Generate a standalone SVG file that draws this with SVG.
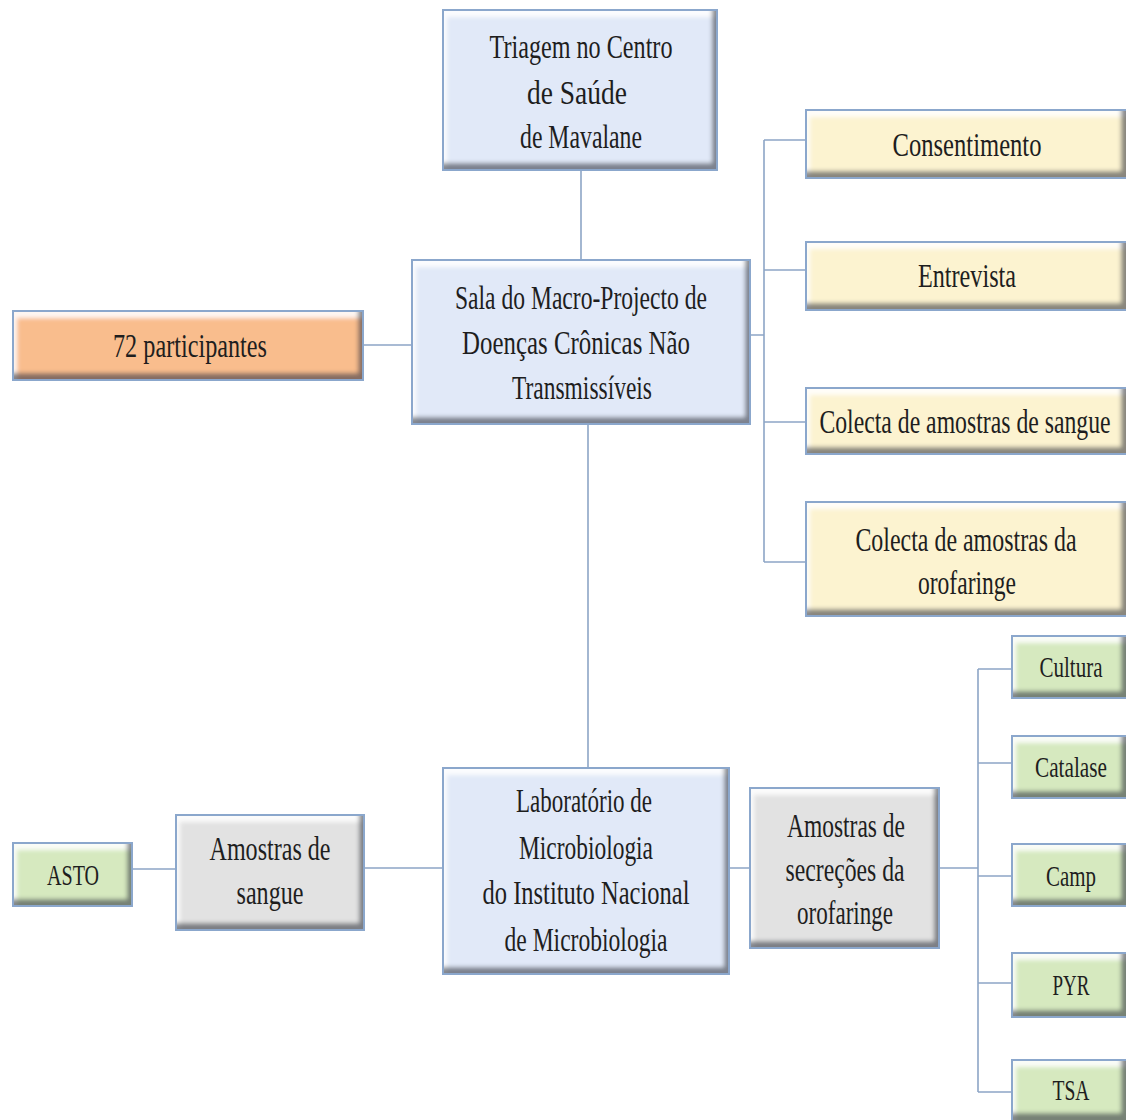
<svg xmlns="http://www.w3.org/2000/svg" width="1126" height="1120" viewBox="0 0 1126 1120">
<defs>
<style>
.t{font-family:"Liberation Serif","DejaVu Serif",serif;font-size:34px;fill:#1e1e1e;text-anchor:middle}
.s{font-size:29px}
.c{fill:none;stroke:#8da5c6;stroke-width:1.6}
.bf{filter:url(#bev)}
.bs{fill:none;stroke:#8ba7cc;stroke-width:2}
.blue{fill:#e1e9f8}
.orange{fill:#f9bd8d}
.yellow{fill:#fcf3d0}
.grey{fill:#e2e2e2}
.green{fill:#d6e9bf}
</style>
<filter id="bev" x="-5%" y="-10%" width="110%" height="120%">
<feGaussianBlur in="SourceAlpha" stdDeviation="2" result="b"/>
<feOffset in="b" dx="-5" dy="-7" result="o1"/>
<feComposite in="SourceAlpha" in2="o1" operator="out" result="sh"/>
<feFlood flood-color="#3c4452" flood-opacity="0.78"/>
<feComposite in2="sh" operator="in" result="shc"/>
<feOffset in="b" dx="4" dy="7" result="o2"/>
<feComposite in="SourceAlpha" in2="o2" operator="out" result="hl"/>
<feFlood flood-color="#ffffff" flood-opacity="0.85"/>
<feComposite in2="hl" operator="in" result="hlc"/>
<feMerge><feMergeNode in="SourceGraphic"/><feMergeNode in="hlc"/><feMergeNode in="shc"/></feMerge>
</filter>
</defs>
<rect width="1126" height="1120" fill="#ffffff"/>
<g id="connectors">
<path class="c" d="M581 170V260"/>
<path class="c" d="M363 345H412"/>
<path class="c" d="M750 335H764M764 140V562M764 140H806M764 270H806M764 422H806M764 562H806"/>
<path class="c" d="M588 424V768"/>
<path class="c" d="M132 869H176M364 868H443M729 868H750"/>
<path class="c" d="M939 868H978M978 669V1092M978 669H1012M978 763H1012M978 876H1012M978 983H1012M978 1092H1012"/>
</g>
<g id="triagem">
<rect class="bf blue" x="443" y="10" width="274" height="160"/><rect class="bs" x="443" y="10" width="274" height="160"/>
<text class="t" x="581" y="58" textLength="183" lengthAdjust="spacingAndGlyphs">Triagem no Centro</text>
<text class="t" x="577" y="104" textLength="100" lengthAdjust="spacingAndGlyphs">de Saúde</text>
<text class="t" x="581" y="148" textLength="122" lengthAdjust="spacingAndGlyphs">de Mavalane</text>
</g>
<g id="sala">
<rect class="bf blue" x="412" y="260" width="338" height="164"/><rect class="bs" x="412" y="260" width="338" height="164"/>
<text class="t" x="581" y="309" textLength="252" lengthAdjust="spacingAndGlyphs">Sala do Macro-Projecto de</text>
<text class="t" x="576" y="354" textLength="228" lengthAdjust="spacingAndGlyphs">Doenças Crônicas Não</text>
<text class="t" x="582" y="399" textLength="140" lengthAdjust="spacingAndGlyphs">Transmissíveis</text>
</g>
<g id="participantes">
<rect class="bf orange" x="13" y="311" width="350" height="69"/><rect class="bs" x="13" y="311" width="350" height="69"/>
<text class="t" x="190" y="357" textLength="154" lengthAdjust="spacingAndGlyphs">72 participantes</text>
</g>
<g id="consentimento">
<rect class="bf yellow" x="806" y="110" width="320" height="68"/><path class="bs" d="M1126 110H806V178H1126"/>
<text class="t" x="967" y="156" textLength="149" lengthAdjust="spacingAndGlyphs">Consentimento</text>
</g>
<g id="entrevista">
<rect class="bf yellow" x="806" y="242" width="320" height="68"/><path class="bs" d="M1126 242H806V310H1126"/>
<text class="t" x="967" y="287" textLength="98" lengthAdjust="spacingAndGlyphs">Entrevista</text>
</g>
<g id="colecta-sangue">
<rect class="bf yellow" x="806" y="388" width="320" height="66"/><path class="bs" d="M1126 388H806V454H1126"/>
<text class="t" transform="translate(965 433) scale(0.7 1)" x="0" y="0" textLength="416" lengthAdjust="spacingAndGlyphs">Colecta de amostras de sangue</text>
</g>
<g id="colecta-orofaringe">
<rect class="bf yellow" x="806" y="502" width="320" height="114"/><path class="bs" d="M1126 502H806V616H1126"/>
<text class="t" transform="translate(966 551) scale(0.7 1)" x="0" y="0" textLength="316" lengthAdjust="spacingAndGlyphs">Colecta de amostras da</text>
<text class="t" x="967" y="594" textLength="98" lengthAdjust="spacingAndGlyphs">orofaringe</text>
</g>
<g id="cultura">
<rect class="bf green" x="1012" y="636" width="114" height="62"/><path class="bs" d="M1126 636H1012V698H1126"/>
<text class="t s" x="1071" y="677" textLength="63" lengthAdjust="spacingAndGlyphs">Cultura</text>
</g>
<g id="catalase">
<rect class="bf green" x="1012" y="736" width="114" height="62"/><path class="bs" d="M1126 736H1012V798H1126"/>
<text class="t s" transform="translate(1071 777) scale(0.75 1)" x="0" y="0" textLength="96" lengthAdjust="spacingAndGlyphs">Catalase</text>
</g>
<g id="camp">
<rect class="bf green" x="1012" y="844" width="114" height="62"/><path class="bs" d="M1126 844H1012V906H1126"/>
<text class="t s" x="1071" y="886" textLength="50" lengthAdjust="spacingAndGlyphs">Camp</text>
</g>
<g id="pyr">
<rect class="bf green" x="1012" y="953" width="114" height="64"/><path class="bs" d="M1126 953H1012V1017H1126"/>
<text class="t s" x="1071" y="995" textLength="37" lengthAdjust="spacingAndGlyphs">PYR</text>
</g>
<g id="tsa">
<rect class="bf green" x="1012" y="1060" width="114" height="60"/><path class="bs" d="M1126 1060H1012V1120"/>
<text class="t s" x="1071" y="1100" textLength="37" lengthAdjust="spacingAndGlyphs">TSA</text>
</g>
<g id="asto">
<rect class="bf green" x="13" y="843" width="119" height="63"/><rect class="bs" x="13" y="843" width="119" height="63"/>
<text class="t s" x="73" y="885" textLength="52" lengthAdjust="spacingAndGlyphs">ASTO</text>
</g>
<g id="amostras-sangue">
<rect class="bf grey" x="176" y="815" width="188" height="115"/><rect class="bs" x="176" y="815" width="188" height="115"/>
<text class="t" x="270" y="860" textLength="121" lengthAdjust="spacingAndGlyphs">Amostras de</text>
<text class="t" x="270" y="904" textLength="67" lengthAdjust="spacingAndGlyphs">sangue</text>
</g>
<g id="laboratorio">
<rect class="bf blue" x="443" y="768" width="286" height="206"/><rect class="bs" x="443" y="768" width="286" height="206"/>
<text class="t" x="584" y="812" textLength="136" lengthAdjust="spacingAndGlyphs">Laboratório de</text>
<text class="t" x="586" y="859" textLength="134" lengthAdjust="spacingAndGlyphs">Microbiologia</text>
<text class="t" x="586" y="904" textLength="207" lengthAdjust="spacingAndGlyphs">do Instituto Nacional</text>
<text class="t" x="586" y="951" textLength="163" lengthAdjust="spacingAndGlyphs">de Microbiologia</text>
</g>
<g id="amostras-secrecoes">
<rect class="bf grey" x="750" y="788" width="189" height="160"/><rect class="bs" x="750" y="788" width="189" height="160"/>
<text class="t" x="846" y="837" textLength="118" lengthAdjust="spacingAndGlyphs">Amostras de</text>
<text class="t" x="845" y="881" textLength="119" lengthAdjust="spacingAndGlyphs">secreções da</text>
<text class="t" x="845" y="924" textLength="96" lengthAdjust="spacingAndGlyphs">orofaringe</text>
</g>
</svg>
